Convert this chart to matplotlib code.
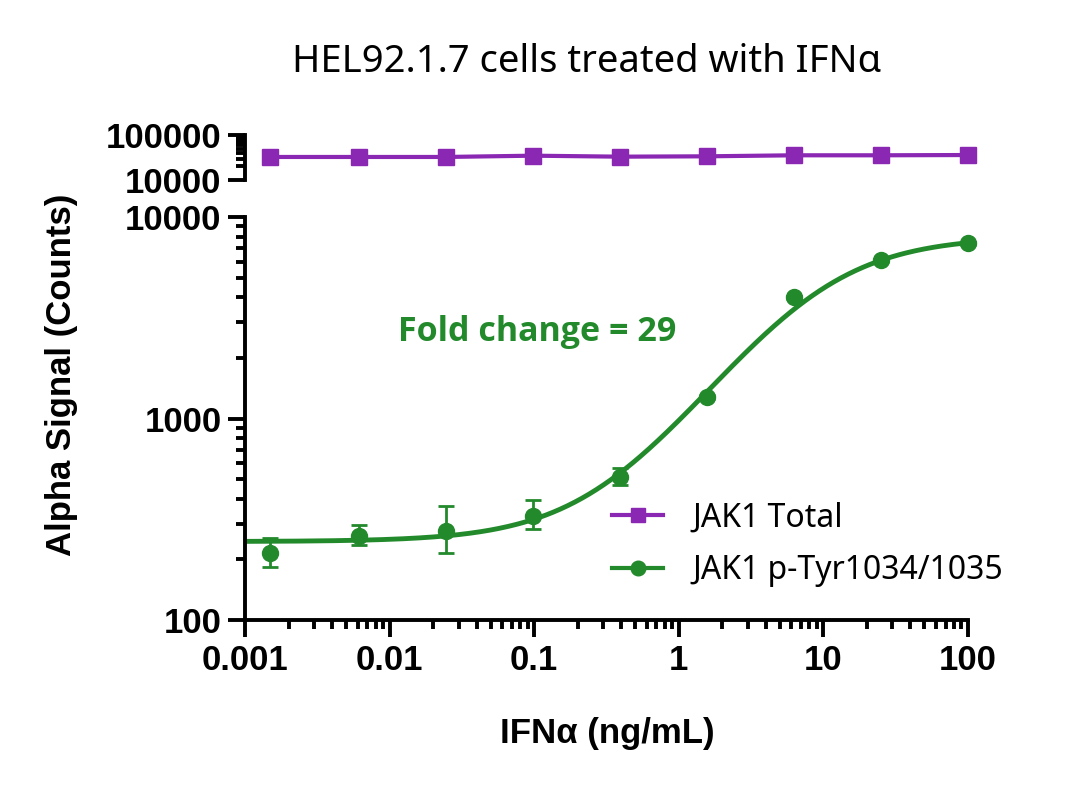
import matplotlib
matplotlib.use("Agg")
import matplotlib.pyplot as plt
import numpy as np
from matplotlib.ticker import LogLocator, FixedLocator, FixedFormatter, NullFormatter

PURPLE = '#8A27B3'
GREEN = '#238A2C'
TEXT_FONT = 'Noto Sans'
TICK_FONT = 'Liberation Sans'

# concentrations (ng/mL), 4-fold serial dilution
conc = [0.0015, 0.0061, 0.0244, 0.0977, 0.39, 1.56, 6.25, 25.0, 100.0]

# JAK1 total signal
total = [32500, 32500, 32500, 34700, 33000, 33600, 35400, 35400, 35900]

# JAK1 p-Tyr1034/1035 mean and error bar bounds
phospho = [215, 262, 278, 330, 515, 1280, 4000, 6100, 7400]
phospho_lo = [183, 236, 215, 283, 470, 1250, 3930, 6000, 7300]
phospho_hi = [255, 296, 368, 394, 565, 1310, 4070, 6200, 7500]

# 4PL fit parameters for the drawn curve
fit_bottom = 245
fit_top = 8000
fit_ec50 = 8.6
fit_hill = 1.05

xticks = [0.001, 0.01, 0.1, 1, 10, 100]
xticklabels = ['0.001', '0.01', '0.1', '1', '10', '100']

fig = plt.figure(figsize=(10.8, 7.88), dpi=100)
ax_top = fig.add_axes([245 / 1080, 1 - 180 / 788, 723 / 1080, 45 / 788])
ax = fig.add_axes([245 / 1080, 1 - 620 / 788, 723 / 1080, 403 / 788])

for a in (ax_top, ax):
    a.set_xscale('log')
    a.set_yscale('log')
    a.set_xlim(0.001, 100)
    for s in ('top', 'right'):
        a.spines[s].set_visible(False)
    a.spines['left'].set_linewidth(2.8)
    a.spines['bottom'].set_linewidth(2.8)
    a.tick_params(axis='both', which='major', direction='out', length=12, width=2.8, pad=5)
    a.tick_params(axis='both', which='minor', direction='out', length=6.5, width=2.8)
    a.patch.set_alpha(0)

# top panel: total JAK1
ax_top.spines['bottom'].set_visible(False)
ax_top.tick_params(axis='x', which='both', bottom=False, labelbottom=False)
ax_top.set_ylim(10000, 100000)
ax_top.yaxis.set_major_locator(FixedLocator([10000, 100000]))
ax_top.yaxis.set_major_formatter(FixedFormatter(['10000', '100000']))
ax_top.yaxis.set_minor_locator(LogLocator(base=10, subs=np.arange(2, 10)))
ax_top.yaxis.set_minor_formatter(NullFormatter())
ax_top.plot(conc, total, color=PURPLE, marker='s', markersize=11.5, linewidth=3,
            clip_on=False, zorder=3)

# bottom panel: phospho JAK1
ax.set_ylim(100, 10000)
ax.yaxis.set_major_locator(FixedLocator([100, 1000, 10000]))
ax.yaxis.set_major_formatter(FixedFormatter(['100', '1000', '10000']))
ax.yaxis.set_minor_locator(LogLocator(base=10, subs=np.arange(2, 10)))
ax.yaxis.set_minor_formatter(NullFormatter())
ax.xaxis.set_major_locator(FixedLocator(xticks))
ax.xaxis.set_major_formatter(FixedFormatter(xticklabels))
ax.xaxis.set_minor_locator(LogLocator(base=10, subs=np.arange(2, 10)))
ax.xaxis.set_minor_formatter(NullFormatter())

xs = np.logspace(-3, 2, 400)
curve = fit_bottom + (fit_top - fit_bottom) / (1 + (fit_ec50 / xs) ** fit_hill)
ax.plot(xs, curve, color=GREEN, linewidth=3.5, zorder=2)

yerr = [np.array(phospho) - np.array(phospho_lo), np.array(phospho_hi) - np.array(phospho)]
ax.errorbar(conc, phospho, yerr=yerr, fmt='o', color=GREEN, markersize=11.5,
            elinewidth=2, capsize=5.5, capthick=2, clip_on=False, zorder=3)

for a in (ax_top, ax):
    for lab in a.get_yticklabels() + a.get_xticklabels():
        lab.set_fontfamily(TICK_FONT)
        lab.set_fontweight('bold')
        lab.set_fontsize(25)

ax.text(0.0115, 2690, 'Fold change = 29', color=GREEN, fontsize=24.5,
        fontweight='bold', family=['Open Sans', 'Lato'], va='center')

# legend built from proxy handles
h1, = ax.plot([], [], color=PURPLE, marker='s', markersize=10.5, linewidth=3)
h2, = ax.plot([], [], color=GREEN, marker='o', markersize=10.5, linewidth=3)
ax.legend([h1, h2], ['JAK1 Total', 'JAK1 p-Tyr1034/1035'],
          loc='center left', bbox_to_anchor=(0.508, 0.188), frameon=False,
          prop={'family': TEXT_FONT, 'size': 23}, handlelength=1.6,
          handletextpad=0.9, labelspacing=0.62, borderpad=0, borderaxespad=0)

fig.text(587 / 1080, 1 - 62 / 788, 'HEL92.1.7 cells treated with IFNα',
         ha='center', va='center', fontsize=27.5, family=TEXT_FONT)
fig.text(62 / 1080, 1 - 375 / 788, 'Alpha Signal (Counts)', rotation=90,
         ha='center', va='center', fontsize=25, fontweight='bold', family=TICK_FONT)
fig.text(607 / 1080, 1 - 733 / 788, 'IFNα (ng/mL)', ha='center', va='center',
         fontsize=25, fontweight='bold', family=TICK_FONT)

fig.savefig('out.png', dpi=100)
